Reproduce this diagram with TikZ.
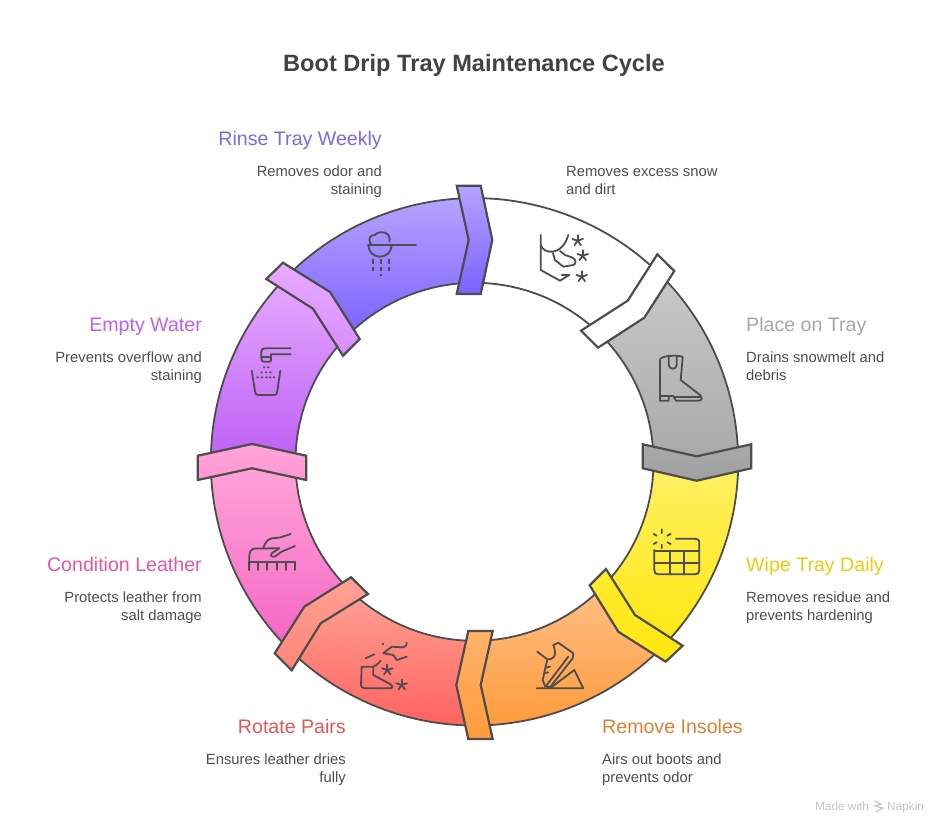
\documentclass[tikz,border=0pt]{standalone}
\usepackage{fontspec}
\setmainfont{Liberation Sans}
\usepackage{xcolor}
\usetikzlibrary{calc}

\definecolor{linegray}{HTML}{4D4D4D}
\definecolor{titlegray}{HTML}{424242}
\definecolor{markgray}{HTML}{C4C4C4}
\definecolor{rinsecol}{HTML}{7C68E8}
\definecolor{emptycol}{HTML}{BF5FEF}
\definecolor{conditioncol}{HTML}{E855A8}
\definecolor{rotatecol}{HTML}{E85555}
\definecolor{insolecol}{HTML}{E07F30}
\definecolor{wipecol}{HTML}{E6CF12}
\definecolor{placecol}{HTML}{A6A6A6}
% band gradients
\definecolor{graytop}{HTML}{C9C9C9}
\definecolor{graybot}{HTML}{A9A9A9}
\definecolor{yellowtop}{HTML}{FFF066}
\definecolor{yellowbot}{HTML}{FFE70F}
\definecolor{orangetop}{HTML}{FFBE85}
\definecolor{orangebot}{HTML}{FF9B3C}
\definecolor{redtop}{HTML}{FFA295}
\definecolor{redbot}{HTML}{FF6360}
\definecolor{pinktop}{HTML}{FFA5D8}
\definecolor{pinkbot}{HTML}{F565C5}
\definecolor{lilactop}{HTML}{E6AAFF}
\definecolor{lilacbot}{HTML}{BE5FF5}
\definecolor{violettop}{HTML}{B5A3FF}
\definecolor{violetbot}{HTML}{7B61FF}
% head gradients where they differ from the band
\definecolor{orangehead}{HTML}{FFB26B}
\definecolor{redhead}{HTML}{FF8478}
\definecolor{pinkhead}{HTML}{FF96D3}
\definecolor{lilachead}{HTML}{D98CFF}
\definecolor{yellowhead}{HTML}{FFE92F}
\definecolor{grayhead}{HTML}{A0A0A0}

\tikzset{
    band/.style 2 args={draw=linegray, line width=1.8pt, top color=#1, bottom color=#2},
    head/.style 2 args={draw=linegray, line width=2.2pt, top color=#1, bottom color=#2},
    icon/.style={draw=linegray, line width=1.8pt, line join=round, line cap=round},
    steplabel/.style={font=\fontsize{19.6}{24}\selectfont, inner sep=0pt},
    desc/.style={font=\fontsize{14.8}{18}\selectfont, text=linegray, inner sep=0pt},
    iconstar/.pic={\foreach \a in {90,162,234,306,18}{\draw[icon] (0,0) -- (\a:5.5pt);}}
}

\begin{document}
\begin{tikzpicture}[x=1pt, y=-1pt]
    \useasboundingbox (0,0) rectangle (948,834);
    \coordinate (ringc) at (474.5,461.8);

    % Ring bands
    \foreach \from/\to/\topc/\botc in {90/45/white/white, 45/0/graytop/graybot, 0/-45/yellowtop/yellowbot,
        -45/-90/orangetop/orangebot, -90/-135/redtop/redbot, -135/-180/pinktop/pinkbot,
        180/135/lilactop/lilacbot, 135/90/violettop/violetbot}{
        \path[band={\topc}{\botc}] ($(ringc)+(\from:263.7pt)$) arc[start angle=\from, end angle=\to, radius=263.7pt]
            -- ($(ringc)+(\to:179pt)$) arc[start angle=\to, end angle=\from, radius=179pt] -- cycle;
    }

    % Arrow heads
    \path[head={white}{white}] (657.3,254.3) -- (674.3,271) -- (644.3,317.7) -- (598,347.7) -- (581,330.7) -- (627.7,300.7) -- cycle;
    \path[head={graybot}{grayhead}] (642.7,444.3) -- (696.7,456.3) -- (751.3,444.3) -- (751.3,468.3) -- (696.7,480.7) -- (642.7,468.3) -- cycle;
    \path[head={yellowhead}{yellowbot}] (606,569) -- (635,615) -- (682.7,645.7) -- (665.7,661.7) -- (618.3,631.7) -- (589.7,585.3) -- cycle;
    \path[head={orangehead}{orangebot}] (468.3,631) -- (492.7,631) -- (480.7,685) -- (492.7,739) -- (468.3,739) -- (456.3,685) -- cycle;
    \path[head={redtop}{redhead}] (351,577.3) -- (368,594) -- (320.7,623.3) -- (291.7,670.3) -- (274.7,653.3) -- (304.3,606.7) -- cycle;
    \path[head={pinktop}{pinkhead}] (197.7,455.7) -- (252,444) -- (306.3,455.7) -- (306.3,480) -- (252,468.3) -- (197.7,480) -- cycle;
    \path[head={lilactop}{lilachead}] (283,262.7) -- (330,292) -- (359.7,339) -- (343,355.7) -- (313,308.7) -- (266.3,279) -- cycle;
    \path[head={violettop}{violetbot}] (456.7,185.7) -- (480.7,185.7) -- (492.3,240) -- (480.7,294) -- (456.7,294) -- (468.7,240) -- cycle;

    % Boot in snow
    \draw[icon] (540.7,235) -- (540.7,270) -- (560,280.7) -- (569.3,275) -- (561.7,275);
    \draw[icon] (540.7,245) .. controls (543,254) and (562,257) .. (568.3,235);
    \draw[icon] (553,253.3) -- (555,260) -- (563.3,266.7) -- (573.3,265) .. controls (576.5,264) and (576.5,259) .. (571.7,257.3) -- (565,255) -- (560,251);
    \pic at (577.7,240.7) {iconstar};
    \pic at (582.7,255.7) {iconstar};
    \pic at (581.7,276.7) {iconstar};

    % Tall boot
    \draw[icon] (660,400.7) -- (660,360) .. controls (660,355) and (680,355) .. (682.7,357) -- (680.7,380) -- (700,395)
        .. controls (703,398) and (702,400.7) .. (698.3,400.7) -- (676,400.7) -- (673.3,396) -- (668.7,396) -- (668.7,400.7) -- cycle;
    \draw[icon] (660,396) -- (668.7,396) (675,396.7) -- (701,396.7);
    \draw[icon] (668.7,356.5) -- (668.7,365) .. controls (669,370) and (676.5,370) .. (676.7,365) -- (676.7,356.5);

    % Tile tray
    \draw[icon] (676,538.7) -- (695,538.7) .. controls (698,538.7) and (699.3,540) .. (699.3,543.3) -- (699.3,570)
        .. controls (699.3,573) and (698,574.3) .. (695,574.3) -- (658.3,574.3) .. controls (655.5,574.3) and (654.3,573) .. (654.3,570) -- (654.3,550);
    \draw[icon] (654.3,550.7) -- (699.3,550.7) (654.3,562.7) -- (699.3,562.7) (669.7,550.7) -- (669.7,574.3) (684.3,550.7) -- (684.3,574.3);
    \draw[icon] (661.7,529.3) -- (661.7,533) (661.7,544.7) -- (661.7,548.3) (653.7,534) -- (656.7,535.7) (653.7,544) -- (656.7,542.3) (670.7,534) -- (667.3,535.7) (670.7,544) -- (667.3,542.3);

    % Running shoe on wedge
    \draw[icon] (536.7,688.3) -- (583.3,688.3) -- (574.3,670) -- (550,688.3);
    \draw[icon] (537.3,651.7) -- (547.3,659.3) .. controls (552,660) and (558,657) .. (553.3,645) -- (558.3,642.7) -- (573.3,653.3) -- (572.7,658.3) -- (550,687.3) -- (545,686) -- (542.7,680) -- (547.3,659.3);
    \draw[icon] (568.3,656.7) -- (546,686) (545.3,667.7) -- (550,666.7) (544,673.3) -- (548.3,672.3);

    % Boot pair with sparkles
    \draw[icon] (361.7,666.7) -- (373.3,666.7) -- (373.3,675) -- (390,684) .. controls (393,686) and (393,688.3) .. (390,688.3) -- (365,688.3) .. controls (362,688.3) and (361,687) .. (361,685) -- cycle;
    \draw[icon] (365.7,658.3) -- (374.3,654.3) (373.3,666.7) .. controls (377,665) and (379,663) .. (380.7,660.7);
    \draw[icon] (406.7,642.7) .. controls (406.5,646) and (405,647.3) .. (403,647.3) -- (391.7,646.7) -- (383.3,653.3) -- (393.3,655) -- (396.7,660) -- (406.7,656.7);
    \draw[icon] (383.3,643.5) -- (383.3,644.5);
    \pic at (387.3,670) {iconstar};
    \pic at (401.7,685) {iconstar};

    % Hand on brush
    \draw[icon] (249.3,570) -- (249.3,556.7) .. controls (249.3,552) and (251,549) .. (255,548.5) -- (279.3,548.3);
    \draw[icon] (263.3,548.3) .. controls (265,542) and (268,539) .. (272,538.3) -- (280,537.5) -- (290.7,534);
    \draw[icon] (279.3,548.3) -- (271.7,553.3) .. controls (270,556) and (272,557.5) .. (275,556.5) -- (281.7,551.7) -- (295,546);
    \draw[icon] (249.3,561.7) -- (295,561.7);
    \foreach \tx in {249.3,258.3,266.7,276.7,286,295}{\draw[icon] (\tx,561.7) -- (\tx,570);}

    % Faucet and bucket
    \draw[icon] (290.7,348.3) -- (265,348.3) .. controls (262.5,348.3) and (261.3,349.5) .. (261.3,351.7) -- (261.3,358.3)
        .. controls (261.3,360.5) and (262,361.7) .. (264,361.7) -- (269,361.7) .. controls (270.5,361.7) and (271,361) .. (271,360) -- (271,354.3) -- (290.7,354.3);
    \draw[icon] (261.3,357.3) -- (271,357.3);
    \draw[icon] (251.7,370.7) -- (255,391) .. controls (255.3,394) and (256,395) .. (258,395) -- (274.5,395) .. controls (276.5,395) and (277,394) .. (277.3,391) -- (280.3,370.7);
    \foreach \dx/\dy in {264/367.3, 268.3/367.3, 261.7/372.3, 266/372.3, 270.3/372.3, 257.7/377.3, 262/377.3, 266.3/377.3, 270/377.3, 274/377.3}{
        \fill[linegray] (\dx,\dy) circle[radius=1.2pt];
    }

    % Rain bowl
    \draw[icon] (368.3,245) -- (416,245);
    \draw[icon] (368.3,245) arc[start angle=180, end angle=360, radius=11.7pt];
    \draw[icon] (371.7,245) .. controls (367,239) and (370,235) .. (375,235) .. controls (376,231.5) and (386,231) .. (388.3,235) .. controls (390,237) and (390,240) .. (389.3,241.7);
    \draw[icon, line cap=butt, dash pattern=on 4.5pt off 3pt] (372.7,259.3) -- (372.7,274);
    \draw[icon, line cap=butt, dash pattern=on 4.5pt off 3pt] (380.7,259.3) -- (380.7,276);
    \draw[icon, line cap=butt, dash pattern=on 4.5pt off 3pt] (389,259.3) -- (389,274);

    % Title and step labels
    \node[font=\fontsize{23.6}{28}\selectfont\bfseries, text=titlegray, inner sep=0pt, anchor=base] (title) at (474,72) {Boot Drip Tray Maintenance Cycle};

    \node[steplabel, text=rinsecol, anchor=base east] (rinse) at (382,145.7) {Rinse Tray Weekly};
    \node[desc, align=right, anchor=base east] (rinsedesc) at (382,194.7) {Removes odor and\\staining};
    \node[desc, align=left, anchor=base west] (snowdesc) at (566,194.7) {Removes excess snow\\and dirt};

    \node[steplabel, text=placecol, anchor=base west] (place) at (746,331) {Place on Tray};
    \node[desc, align=left, anchor=base west] (placedesc) at (746,380.7) {Drains snowmelt and\\debris};

    \node[steplabel, text=wipecol, anchor=base west] (wipe) at (746,571) {Wipe Tray Daily};
    \node[desc, align=left, anchor=base west] (wipedesc) at (746,620.7) {Removes residue and\\prevents hardening};

    \node[steplabel, text=insolecol, anchor=base west] (insole) at (602,733) {Remove Insoles};
    \node[desc, align=left, anchor=base west] (insoledesc) at (602,782.7) {Airs out boots and\\prevents odor};

    \node[steplabel, text=rotatecol, anchor=base east] (rotate) at (346,733) {Rotate Pairs};
    \node[desc, align=right, anchor=base east] (rotatedesc) at (346,782.7) {Ensures leather dries\\fully};

    \node[steplabel, text=conditioncol, anchor=base east] (condition) at (202,571) {Condition Leather};
    \node[desc, align=right, anchor=base east] (conditiondesc) at (202,620.7) {Protects leather from\\salt damage};

    \node[steplabel, text=emptycol, anchor=base east] (empty) at (202,331) {Empty Water};
    \node[desc, align=right, anchor=base east] (emptydesc) at (202,380.7) {Prevents overflow and\\staining};

    % Watermark
    \node[font=\fontsize{11.8}{14}\selectfont, text=markgray, inner sep=0pt, anchor=base west] (made) at (815,810) {Made with};
    \node[font=\fontsize{11.8}{14}\selectfont, text=markgray, inner sep=0pt, anchor=base west] (napkin) at (887,810) {Napkin};
    \draw[markgray, line width=1.2pt] (874,801) -- (881,804) -- (875,806) -- (883,808) -- (876,812);
\end{tikzpicture}
\end{document}
